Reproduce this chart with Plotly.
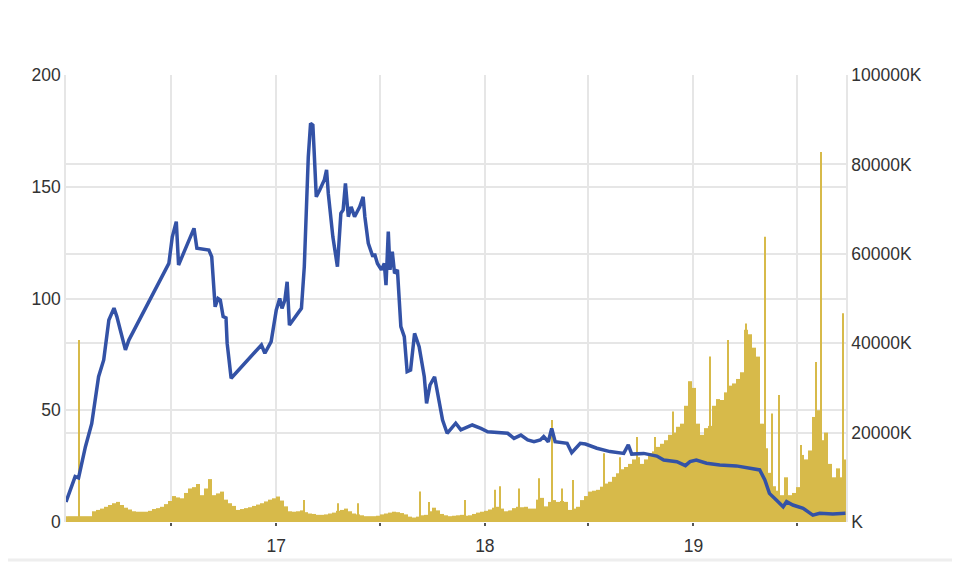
import plotly.graph_objects as go
import pandas as pd

# ---- price line (left axis) ----
price_dates = [
    "2015-12-30", "2016-01-15", "2016-01-21", "2016-02-02", "2016-02-13", "2016-02-25", "2016-03-05",
    "2016-03-14", "2016-03-23", "2016-03-28", "2016-04-03", "2016-04-12", "2016-04-18",
    "2016-06-27", "2016-07-03", "2016-07-10", "2016-07-14", "2016-08-01", "2016-08-10", "2016-08-15",
    "2016-09-05", "2016-09-10", "2016-09-16", "2016-09-21", "2016-09-25", "2016-09-30", "2016-10-05",
    "2016-10-07", "2016-10-14", "2016-12-06", "2016-12-12", "2016-12-23",
    "2017-01-01", "2017-01-07", "2017-01-11", "2017-01-16", "2017-01-20", "2017-01-24", "2017-02-14",
    "2017-02-19", "2017-02-26", "2017-03-02", "2017-03-06", "2017-03-08", "2017-03-12", "2017-03-18",
    "2017-03-26", "2017-03-30", "2017-04-02", "2017-04-10", "2017-04-13", "2017-04-18", "2017-04-24",
    "2017-04-28", "2017-05-02", "2017-05-07", "2017-05-12", "2017-05-18", "2017-05-27", "2017-06-02",
    "2017-06-05", "2017-06-11", "2017-06-19", "2017-06-22", "2017-06-27",
    "2017-07-04", "2017-07-09", "2017-07-12", "2017-07-16", "2017-07-19", "2017-07-23", "2017-07-27",
    "2017-08-01", "2017-08-07", "2017-08-13", "2017-08-18", "2017-08-24", "2017-08-31", "2017-09-08",
    "2017-09-17", "2017-09-21", "2017-09-27", "2017-10-05", "2017-10-13", "2017-10-19", "2017-10-27",
    "2017-11-11", "2017-11-20", "2017-12-10", "2017-12-25",
    "2018-01-06", "2018-02-10", "2018-02-21", "2018-03-05", "2018-03-17", "2018-03-28", "2018-04-08",
    "2018-04-14", "2018-04-22", "2018-04-28", "2018-05-04", "2018-05-25", "2018-06-02", "2018-06-17",
    "2018-06-26", "2018-07-16", "2018-08-08", "2018-09-01", "2018-09-09", "2018-09-15", "2018-10-06",
    "2018-10-29", "2018-11-10", "2018-12-03", "2018-12-18", "2018-12-26",
    "2019-01-06", "2019-01-24", "2019-02-16", "2019-03-17", "2019-04-15", "2019-04-27", "2019-05-06",
    "2019-05-14", "2019-05-26", "2019-06-07", "2019-06-13", "2019-06-24", "2019-07-12", "2019-07-29",
    "2019-08-10", "2019-09-02", "2019-09-24",
]
price_values = [
    9, 20.3, 19.7, 33.7, 44, 65, 72.5, 90.4, 95.7, 91.9, 85.9, 77, 81.4,
    115.7, 127.6, 134.4, 115, 126.2, 131.4, 122.5, 121.7, 118.7, 96.3, 100, 99.3, 91.9, 91.3, 80, 64.3,
    79.2, 75.5, 80.7,
    94.9, 100, 95.6, 99.3, 107.5, 88.1, 95.6, 114.2, 163.4, 178.4, 177.6, 167.2, 145.5, 148.5, 153,
    157.5, 147, 127.6, 121.7, 114.2, 138.1, 139.6, 151.5, 136.6, 141, 136.6, 141, 145.5, 136.6, 124.7,
    118.7, 120, 115.7,
    112.8, 115.7, 106, 129.9, 112.8, 120.9, 111.3, 112.8, 87.4, 82.9, 67.3, 68, 84.4, 78.4, 65, 53.1,
    61.3, 65, 54.6, 45.6, 39.7, 44.2, 41.2, 43.4, 41.9,
    40.4, 39.7, 37.4, 38.9, 36.7, 35.9, 36.7, 38.2, 35.9, 41.9, 35.9, 35.2, 31, 35.2, 34.9, 33, 31.5,
    30.7, 34.5, 30.4, 30.7, 29.5, 27.7, 27, 25.2, 27,
    27.7, 26.3, 25.5, 25.1, 24, 23.3, 18.8, 12.8, 9.8, 6.8, 9.1, 7.6, 6.1, 3.1, 3.9, 3.6, 3.9,
]

# ---- weekly volume (right axis, thousands) ----
volume_start = "2015-12-30"
volume_weekly = [
    1300, 1300, 1300, 1300, 1300, 1300, 1300,
    2400, 2700, 3000, 3400, 3800, 4200, 4500,
    3800, 3200, 2800, 2400, 2300, 2300, 2300,
    2500, 2900, 3100, 3400, 4000, 4700, 5800,
    5500, 5300, 6500, 7500, 7800, 8500, 6000,
    7500, 9600, 6000, 6400, 6800, 5000, 4200,
    3600, 2700, 2900, 3100, 3300, 3600, 3900,
    4200, 4600, 5000, 5300, 5700, 4800, 3500,
    2400, 2300, 2400, 2600, 2200, 1900, 1800,
    1600, 1600, 1700, 1900, 2100, 2500, 2700,
    3000, 2400, 1900, 1700, 1500, 1300, 1300,
    1300, 1400, 1700, 1900, 2100, 2300, 2200,
    2000, 1700, 1200, 1000, 1200, 1500, 1600,
    2400, 3200, 2600, 1800, 1500, 1300, 1400,
    1500, 1600, 1400, 1500, 1800, 2100, 2300,
    2500, 2800, 3200, 3400, 3000, 2400, 2600,
    3100, 3400, 3300, 3400, 3000, 3000, 5000,
    5400, 3500, 4500, 4900, 4500, 4700, 4500,
    2700, 3000, 3400, 4900, 5800, 6800, 7000,
    7200, 7900, 8600, 9000, 10100, 10900, 11800,
    12300, 13000, 14000, 14500, 13000, 14000, 15400,
    15800, 16800, 17500, 18300, 19500, 20000, 21300,
    22000, 26000, 31500, 30000, 22000, 19500, 21000,
    21500, 26000, 27500, 27300, 29000, 30500, 31000,
    32000, 33500, 43000, 42000, 39000, 37000, 22000,
    16500, 11000, 8000, 7000, 6000, 10000, 6000,
    6500, 7800, 15000, 14000, 16000, 23500, 25000,
    18300, 20000, 13000, 10000, 12000, 10000, 14000,
]

# ---- single-day volume spikes (thousands) ----
spike_dates = [
    "2016-01-21", "2017-02-18", "2017-04-19", "2017-05-24", "2017-09-10", "2017-09-25", "2017-11-27",
    "2018-01-18", "2018-01-28", "2018-03-02", "2018-04-05", "2018-04-28", "2018-05-16", "2018-06-05",
    "2018-07-28", "2018-08-25", "2018-09-25", "2018-10-26", "2018-11-27",
    "2019-01-30", "2019-03-02", "2019-04-03", "2019-05-06", "2019-05-19", "2019-05-30", "2019-07-09",
    "2019-08-04", "2019-08-12", "2019-09-19",
]
spike_values = [
    40700, 4900, 4200, 4200, 6800, 4500, 4900,
    7200, 8000, 7500, 9800, 22800, 7500, 9400,
    15400, 14500, 19000, 19000, 24700,
    37000, 40700, 44400, 63800, 24300, 28400, 17200,
    35800, 82800, 46700,
]

# ---- axis ticks ----
x_tick_vals = ["2016-07-01", "2017-01-01", "2017-07-01", "2018-01-01", "2018-07-01", "2019-01-01", "2019-07-01"]
x_tick_text = ["", "17", "", "18", "", "19", ""]
price_ticks = [0, 50, 100, 150, 200]
volume_ticks = [0, 20000, 40000, 60000, 80000, 100000]
volume_tick_text = ["K", "20000K", "40000K", "60000K", "80000K", "100000K"]

BLUE = "#3352A6"
GOLD = "#D7BA4A"
GRID = "#e6e6e6"
DAY_MS = 86400000

week_dates = pd.date_range(volume_start, periods=len(volume_weekly), freq="7D")

fig = go.Figure()
fig.add_trace(go.Bar(
    x=week_dates, y=volume_weekly, width=[7 * DAY_MS] * len(volume_weekly),
    marker=dict(color=GOLD, line=dict(width=0)), yaxis="y", hoverinfo="skip",
))
fig.add_trace(go.Bar(
    x=pd.to_datetime(spike_dates), y=spike_values, width=[2 * DAY_MS] * len(spike_values),
    marker=dict(color=GOLD, line=dict(width=0)), yaxis="y", hoverinfo="skip",
))
fig.add_trace(go.Scatter(
    x=pd.to_datetime(price_dates), y=price_values, mode="lines",
    line=dict(color=BLUE, width=3.5), yaxis="y2",
))

# page body has an 8px default margin, so margins are shifted to place the plot area at (66,75)-(846,522)
fig.update_layout(
    width=960, height=564,
    margin=dict(l=58, r=122, t=67, b=50),
    paper_bgcolor="white", plot_bgcolor="white",
    showlegend=False, barmode="overlay",
    font=dict(family="Liberation Sans, Arial, sans-serif", size=17.5, color="#333333"),
    xaxis=dict(
        type="date", range=["2015-12-30", "2019-09-25"],
        tickmode="array", tickvals=x_tick_vals, ticktext=x_tick_text,
        showgrid=True, gridcolor=GRID, gridwidth=1.5,
        ticks="outside", ticklen=3, tickwidth=2, tickcolor="#555555",
        ticklabelstandoff=5,
        zeroline=False, showline=False,
    ),
    yaxis=dict(
        side="right", range=[0, 100000],
        tickmode="array", tickvals=volume_ticks, ticktext=volume_tick_text,
        showgrid=True, gridcolor=GRID, gridwidth=1.5,
        zeroline=False, showline=True, linecolor=GRID, linewidth=1.5,
    ),
    yaxis2=dict(
        overlaying="y", side="left", range=[0, 200],
        tickmode="array", tickvals=price_ticks,
        showgrid=True, gridcolor=GRID, gridwidth=1.5,
        zeroline=False, showline=True, linecolor=GRID, linewidth=1.5,
    ),
    shapes=[dict(type="line", xref="paper", yref="paper", x0=-0.1, x1=1.2, y0=-0.085, y1=-0.085,
                 line=dict(color="#eeeeee", width=3))],
)

fig.write_html("out.html")
